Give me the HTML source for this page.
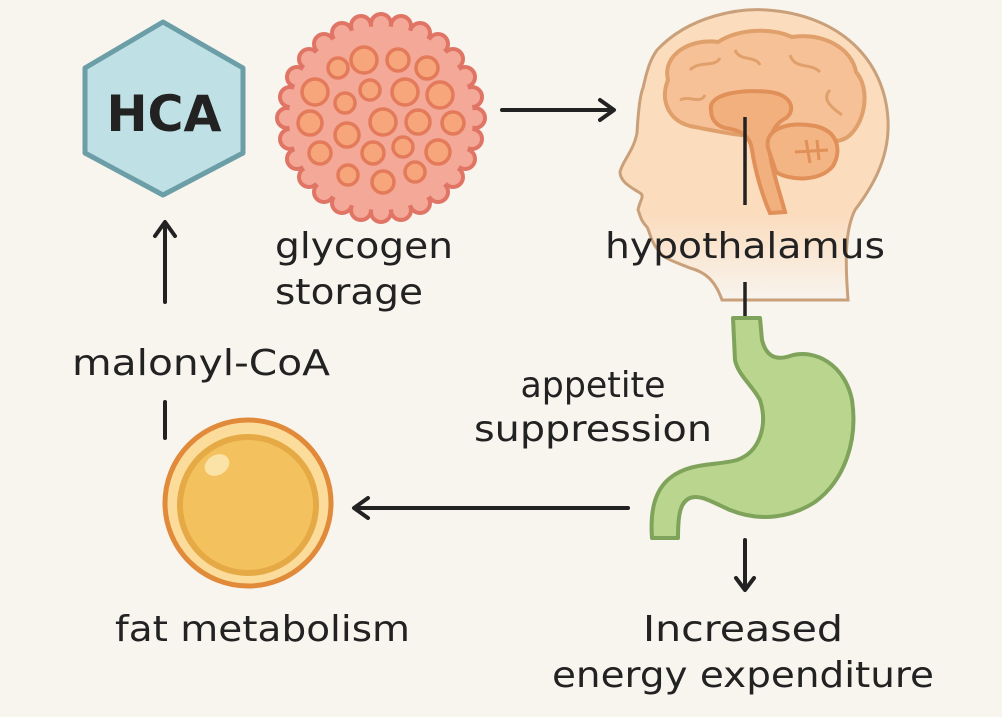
<!DOCTYPE html>
<html><head><meta charset="utf-8"><style>
html,body{margin:0;padding:0;background:#f8f4ee;}
svg{display:block;}
text{font-family:"DejaVu Sans","Liberation Sans",sans-serif;fill:#222;}
</style></head><body>
<svg width="1002" height="717" viewBox="0 0 1002 717" xmlns="http://www.w3.org/2000/svg">
<rect width="1002" height="717" fill="#f8f4ee"/>
<!-- HCA hexagon -->
<path d="M163,22 L243,68 L243,153 L163,195 L85,153 L85,68 Z" fill="#bfe0e4" stroke="#6b9ea6" stroke-width="5" stroke-linejoin="round"/>
<text x="164" y="131" font-size="50" font-weight="bold" text-anchor="middle" textLength="115" lengthAdjust="spacingAndGlyphs">HCA</text>
<!-- glycogen -->
<g fill="#f4a898" stroke="#e07566" stroke-width="4">
<circle cx="475" cy="118" r="10"/><circle cx="472" cy="139" r="10"/><circle cx="465" cy="159" r="10"/><circle cx="453" cy="177" r="10"/><circle cx="438" cy="192" r="10"/><circle cx="420" cy="203" r="10"/><circle cx="401" cy="210" r="10"/><circle cx="381" cy="212" r="10"/><circle cx="361" cy="210" r="10"/><circle cx="342" cy="203" r="10"/><circle cx="324" cy="192" r="10"/><circle cx="309" cy="177" r="10"/><circle cx="297" cy="159" r="10"/><circle cx="290" cy="139" r="10"/><circle cx="287" cy="118" r="10"/><circle cx="290" cy="97" r="10"/><circle cx="297" cy="77" r="10"/><circle cx="309" cy="59" r="10"/><circle cx="324" cy="44" r="10"/><circle cx="342" cy="33" r="10"/><circle cx="361" cy="26" r="10"/><circle cx="381" cy="24" r="10"/><circle cx="401" cy="26" r="10"/><circle cx="420" cy="33" r="10"/><circle cx="438" cy="44" r="10"/><circle cx="453" cy="59" r="10"/><circle cx="465" cy="77" r="10"/><circle cx="472" cy="97" r="10"/>
</g>
<circle cx="381" cy="118" r="92" fill="#f4a898"/>
<g fill="#f7a57a" stroke="#e37a5a" stroke-width="3.5">
<circle cx="338" cy="68" r="10"/><circle cx="364" cy="60" r="13"/><circle cx="398" cy="60" r="11"/><circle cx="427" cy="68" r="11"/>
<circle cx="315" cy="92" r="13"/><circle cx="370" cy="90" r="10"/><circle cx="405" cy="92" r="13"/><circle cx="440" cy="95" r="13"/>
<circle cx="345" cy="103" r="10"/><circle cx="310" cy="123" r="12"/><circle cx="383" cy="122" r="13"/><circle cx="418" cy="122" r="12"/>
<circle cx="453" cy="123" r="11"/><circle cx="347" cy="135" r="12"/><circle cx="320" cy="153" r="11"/><circle cx="373" cy="153" r="11"/>
<circle cx="403" cy="147" r="10"/><circle cx="438" cy="152" r="12"/><circle cx="348" cy="175" r="10"/><circle cx="383" cy="182" r="11"/>
<circle cx="415" cy="172" r="10"/>
</g>
<!-- head -->
<defs><linearGradient id="fade" x1="0" y1="0" x2="0" y2="1">
<stop offset="0.7" stop-color="#fbdcbd"/><stop offset="1" stop-color="#f8f4ee"/></linearGradient></defs>
<path d="M657,50 C690,15 740,8 767,10 C840,15 885,60 888,120 C890,160 870,190 855,210 C845,230 845,260 848,300 L722,300 C715,280 705,272 690,268 C675,262 662,258 658,250 C650,240 650,232 647,227 C640,220 640,214 638,210 C640,200 645,196 640,193 C632,188 620,182 620,172 C622,162 634,150 637,133 C638,115 640,95 643,88 C647,70 650,60 657,50 Z" fill="url(#fade)" stroke="#c9a07a" stroke-width="3"/>
<!-- brain -->
<path d="M668,80 C662,55 690,38 718,42 C740,28 772,28 792,37 C822,32 852,48 856,72 C870,88 866,120 850,135 C838,146 818,141 800,136 C760,141 720,132 690,126 C668,120 660,100 668,80 Z" fill="#f7c197" stroke="#e0a06b" stroke-width="4"/>
<path d="M690,70 C700,60 715,68 720,58 M735,50 C740,62 755,55 760,65 M790,55 C795,70 810,62 820,72 M830,90 C820,100 835,110 842,115 M680,100 C690,95 700,105 705,95" stroke="#e0a06b" stroke-width="3" fill="none"/>
<path d="M711,110 C708,94 740,89 770,92 C792,95 796,110 786,118 C772,125 767,140 771,160 C775,180 782,200 785,212 L770,213 C762,195 755,170 752,150 C750,135 740,130 725,128 C715,125 711,118 711,110 Z" fill="#f2b07f" stroke="#e09058" stroke-width="4"/>
<path d="M768,148 C764,128 790,121 815,126 C838,131 842,150 833,166 C820,182 790,181 776,172 Z" fill="#f3b583" stroke="#e09058" stroke-width="4"/>
<path d="M795,152 L828,150 M806,140 L810,163 M817,140 L819,160" stroke="#e09058" stroke-width="3"/>
<!-- hypothalamus line -->
<line x1="745" y1="117" x2="745" y2="205" stroke="#222" stroke-width="3.5"/>
<text x="745" y="258" font-size="36" text-anchor="middle" textLength="280" lengthAdjust="spacingAndGlyphs">hypothalamus</text>
<line x1="745" y1="282" x2="745" y2="316" stroke="#222" stroke-width="3.5"/>
<!-- stomach -->
<path d="M733,318 L760,318 L762,340 C765,352 772,362 790,356 C815,348 845,365 852,400 C858,440 845,480 815,502 C790,518 760,522 730,510 C712,502 700,494 690,498 C680,502 678,515 678,538 L652,538 C650,510 655,490 670,478 C690,462 715,466 737,460 C760,452 768,425 760,400 C752,385 738,375 735,360 Z" fill="#b9d58e" stroke="#7fa35a" stroke-width="4" stroke-linejoin="round"/>
<text x="593" y="397" font-size="36" text-anchor="middle" textLength="145" lengthAdjust="spacingAndGlyphs">appetite</text>
<text x="593" y="441" font-size="36" text-anchor="middle" textLength="238" lengthAdjust="spacingAndGlyphs">suppression</text>
<!-- arrows -->
<g stroke="#222" stroke-width="4" fill="none" stroke-linecap="round" stroke-linejoin="round">
<line x1="502" y1="110" x2="612" y2="110"/><path d="M600,100 L614,110 L600,120"/>
<line x1="628" y1="508" x2="356" y2="508"/><path d="M368,498 L354,508 L368,518"/>
<line x1="165" y1="302" x2="165" y2="224"/><path d="M155,236 L165,222 L175,236"/>
<line x1="165" y1="402" x2="165" y2="438"/>
<line x1="745" y1="540" x2="745" y2="588"/><path d="M736,578 L745,590 L754,578"/>
</g>
<!-- fat -->
<circle cx="248" cy="503" r="83" fill="#fbdc9a" stroke="#e08a3a" stroke-width="5"/>
<circle cx="248" cy="505" r="68" fill="#f3c25e" stroke="#e5aa45" stroke-width="6"/>
<ellipse cx="217" cy="465" rx="13" ry="10" fill="#fbe3a8" transform="rotate(-30 217 465)"/>
<!-- labels -->
<text x="275" y="258" font-size="36" textLength="178" lengthAdjust="spacingAndGlyphs">glycogen</text>
<text x="275" y="304" font-size="36" textLength="148" lengthAdjust="spacingAndGlyphs">storage</text>
<text x="72" y="375" font-size="36" textLength="258" lengthAdjust="spacingAndGlyphs">malonyl-CoA</text>
<text x="115" y="641" font-size="36" textLength="295" lengthAdjust="spacingAndGlyphs">fat metabolism</text>
<text x="743" y="641" font-size="36" text-anchor="middle" textLength="200" lengthAdjust="spacingAndGlyphs">Increased</text>
<text x="743" y="687" font-size="36" text-anchor="middle" textLength="382" lengthAdjust="spacingAndGlyphs">energy expenditure</text>
</svg>
</body></html>
